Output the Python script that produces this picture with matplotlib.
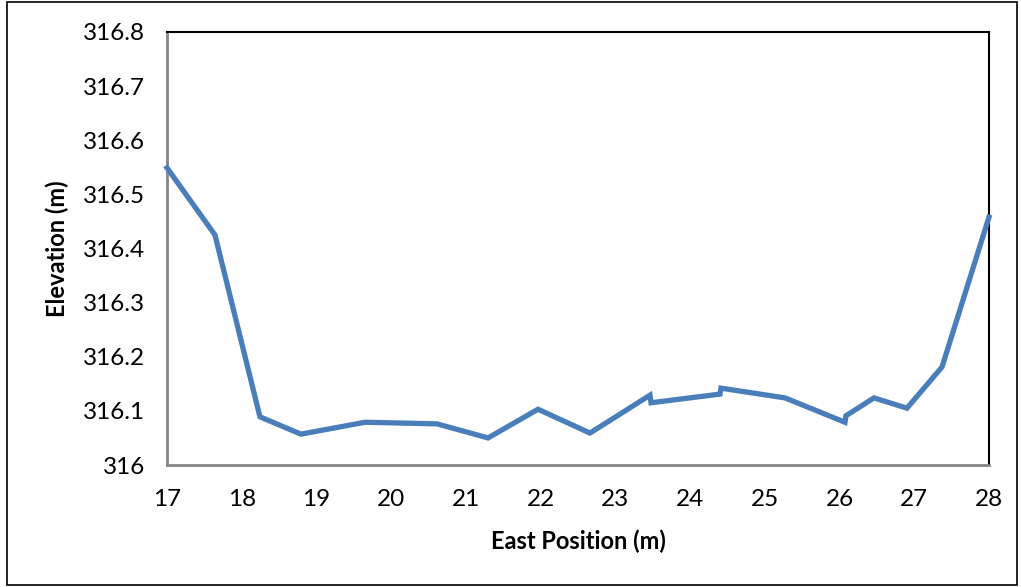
import matplotlib
matplotlib.use("Agg")
import matplotlib.pyplot as plt
from matplotlib.patches import Rectangle

# Cross-section survey: east position vs. ground elevation
east_position = [17.000, 17.642, 18.244, 18.793, 19.650, 20.613, 21.296, 21.965,
                 22.660, 23.463, 23.477, 24.400, 24.413, 25.270, 26.073, 26.086,
                 26.461, 26.902, 27.371, 28.000]
elevation = [316.549, 316.425, 316.089, 316.057, 316.079, 316.076, 316.050, 316.103,
             316.059, 316.129, 316.115, 316.131, 316.142, 316.124, 316.079, 316.091,
             316.124, 316.105, 316.181, 316.458]

x_ticks = [17, 18, 19, 20, 21, 22, 23, 24, 25, 26, 27, 28]
y_ticks = [316.0, 316.1, 316.2, 316.3, 316.4, 316.5, 316.6, 316.7, 316.8]
y_tick_labels = ["316", "316.1", "316.2", "316.3", "316.4", "316.5", "316.6", "316.7", "316.8"]

plt.rcParams["font.family"] = ["Lato", "DejaVu Sans"]

W, H = 1021, 587
fig = plt.figure(figsize=(W / 100, H / 100), dpi=100)
ax = fig.add_axes([167 / W, (H - 465) / H, (989 - 167) / W, (465 - 32) / H])

ax.plot(east_position, elevation, color="#4A7EBB", linewidth=3.8,
        solid_joinstyle="miter", clip_on=False, zorder=3)

ax.set_xlim(17, 28)
ax.set_ylim(316.0, 316.8)
ax.set_xticks(x_ticks)
ax.set_yticks(y_ticks)
ax.set_yticklabels(y_tick_labels)
ax.tick_params(axis="both", length=0, labelsize=17.5, colors="black")
ax.tick_params(axis="y", pad=16)
ax.tick_params(axis="x", pad=17)

for side in ("left", "bottom"):
    ax.spines[side].set_color("#868686")
    ax.spines[side].set_linewidth(2.0)
for side in ("top", "right"):
    ax.spines[side].set_color("black")
    ax.spines[side].set_linewidth(1.5)

ax.set_xlabel("East Position (m)", fontsize=17, fontweight="bold", labelpad=14)
ax.set_ylabel("Elevation (m)", fontsize=17, fontweight="bold", labelpad=10)

# Outer chart border
fig.patches.append(Rectangle((7 / W, 2 / H), (1017 - 7) / W, (585 - 2) / H,
                             transform=fig.transFigure, fill=False,
                             edgecolor="black", linewidth=1.2))

fig.savefig("out.png", dpi=100)
